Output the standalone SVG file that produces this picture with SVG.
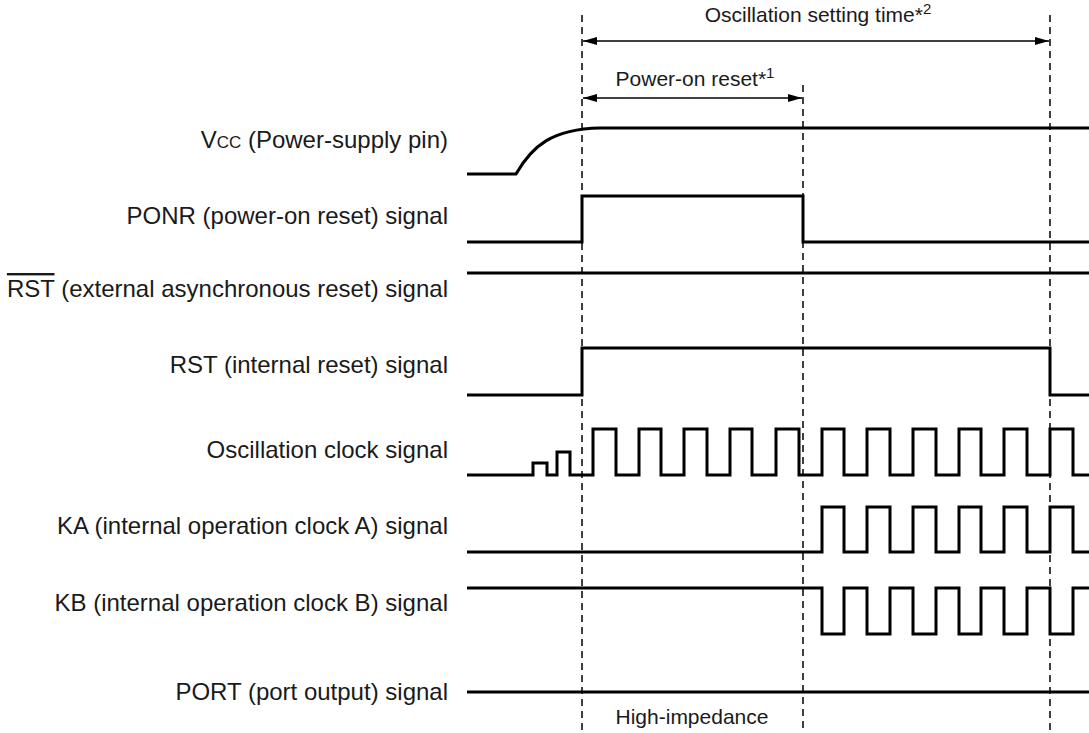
<svg xmlns="http://www.w3.org/2000/svg" width="1089" height="733" viewBox="0 0 1089 733">
<defs>
<style>
.lbl{font-family:"Liberation Sans",Arial,sans-serif;font-size:24px;fill:#1a1a1a;text-anchor:end}
.note{font-family:"Liberation Sans",Arial,sans-serif;font-size:21px;fill:#1a1a1a;text-anchor:middle}
.wave{fill:none;stroke:#000;stroke-width:3;stroke-linejoin:miter}
.dash{fill:none;stroke:#000;stroke-width:1.5;stroke-dasharray:7,5}
.dim{fill:none;stroke:#000;stroke-width:1.5}
</style>
<marker id="ah" viewBox="0 0 14 8" refX="14" refY="4" markerWidth="14" markerHeight="8" markerUnits="userSpaceOnUse" orient="auto-start-reverse">
<path d="M0,0 L14,4 L0,8 Z" fill="#000"/>
</marker>
</defs>
<rect width="1089" height="733" fill="#fff"/>

<g id="connectors">
<line class="dash" x1="582" y1="15" x2="582" y2="733"/>
<line class="dash" x1="803" y1="85" x2="803" y2="733"/>
<line class="dash" x1="1050" y1="15" x2="1050" y2="733"/>
<line class="dim" x1="583" y1="41" x2="1049" y2="41" marker-start="url(#ah)" marker-end="url(#ah)"/>
<line class="dim" x1="583" y1="98" x2="802" y2="98" marker-start="url(#ah)" marker-end="url(#ah)"/>
</g>

<g id="osc-setting-label">
<text class="note" x="818" y="22">Oscillation setting time*<tspan font-size="15" dy="-8">2</tspan></text>
</g>
<g id="power-on-reset-label">
<text class="note" x="695" y="86">Power-on reset*<tspan font-size="15" dy="-8">1</tspan></text>
</g>

<g id="vcc">
<text class="lbl" x="448" y="148">V<tspan font-size="17">CC</tspan> (Power-supply pin)</text>
<path class="wave" d="M467,174 H516 C532,146 552,129 600,128 H1089"/>
</g>

<g id="ponr">
<text class="lbl" x="448" y="224">PONR (power-on reset) signal</text>
<path class="wave" d="M467,242 H582 V196 H803 V242 H1089"/>
</g>

<g id="rst-ext">
<text class="lbl" x="448" y="297"><tspan text-decoration="overline">RST</tspan> (external asynchronous reset) signal</text>
<path class="wave" d="M467,273 H1089"/>
</g>

<g id="rst-int">
<text class="lbl" x="448" y="373">RST (internal reset) signal</text>
<path class="wave" d="M467,395 H582 V348 H1050 V395 H1089"/>
</g>

<g id="osc-clock">
<text class="lbl" x="448" y="458">Oscillation clock signal</text>
<path class="wave" d="M467,475 H533 V463 H547 V475 H557 V452 H570 V475 H593 V429 H616 V475 H639 V429 H661 V475 H684 V429 H707 V475 H730 V429 H752 V475 H776 V429 H799 V475 H822 V429 H844 V475 H867 V429 H890 V475 H913 V429 H936 V475 H959 V429 H981 V475 H1004 V429 H1027 V475 H1050 V429 H1073 V475 H1089"/>
</g>

<g id="ka">
<text class="lbl" x="448" y="534">KA (internal operation clock A) signal</text>
<path class="wave" d="M467,552 H822 V507 H844 V552 H867 V507 H890 V552 H913 V507 H936 V552 H959 V507 H981 V552 H1004 V507 H1027 V552 H1050 V507 H1073 V552 H1089"/>
</g>

<g id="kb">
<text class="lbl" x="448" y="611">KB (internal operation clock B) signal</text>
<path class="wave" d="M467,588 H822 V634 H844 V588 H867 V634 H890 V588 H913 V634 H936 V588 H959 V634 H981 V588 H1004 V634 H1027 V588 H1050 V634 H1073 V588 H1089"/>
</g>

<g id="port">
<text class="lbl" x="448" y="700">PORT (port output) signal</text>
<path class="wave" d="M467,692 H1089"/>
<text class="note" x="692" y="724">High-impedance</text>
</g>
</svg>
